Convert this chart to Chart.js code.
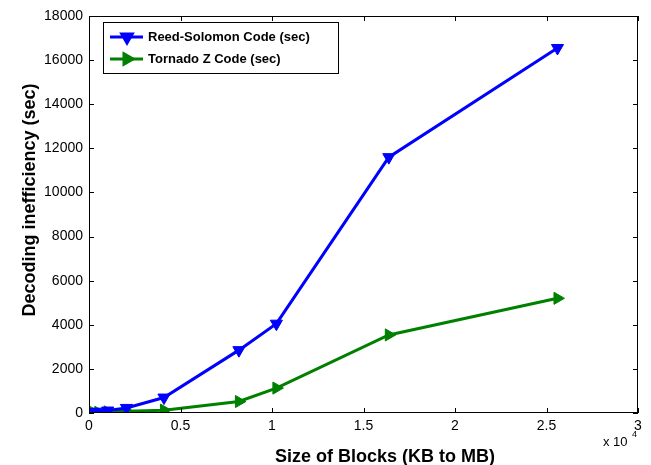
<!DOCTYPE html>
<html>
<head>
<meta charset="utf-8">
<script src="https://cdn.jsdelivr.net/npm/chart.js@4"></script>
<style>
    html, body { margin: 0; padding: 0; background: #fff; }
    #wrap { width: 651px; height: 465px; position: relative; }
</style>
</head>
<body>
<div id="wrap"><canvas id="decoding"></canvas></div>
<script>
// block sizes (x axis) and decoding time of each code
const blockSizes = [64, 256, 512, 1024, 2048, 4096, 8192, 10240, 16384, 25600];
const reedSolomon = [20, 40, 60, 110, 230, 700, 2850, 4050, 11600, 16550];
const tornadoZ = [10, 20, 30, 50, 80, 130, 520, 1130, 3540, 5200];

const seriesLabels = ['Reed-Solomon Code (sec)', 'Tornado Z Code (sec)'];
const xTitle = 'Size of Blocks (KB to MB)';
const yTitle = 'Decoding inefficiency (sec)';

const FONT = "'Liberation Sans', Arial, Helvetica, sans-serif";

function toPoints(values) {
    return blockSizes.map((x, i) => ({ x: x, y: values[i] }));
}

// matlab style box, inward ticks, legend and axis titles
const matlabFrame = {
    id: 'matlabFrame',
    afterDraw(chart) {
        const ctx = chart.ctx;
        const area = chart.chartArea;
        const xs = chart.scales.x;
        const ys = chart.scales.y;
        const tick = 5;

        ctx.save();
        ctx.strokeStyle = '#000';
        ctx.lineWidth = 1;
        ctx.strokeRect(area.left + 0.5, area.top + 0.5, area.right - area.left - 1, area.bottom - area.top - 1);

        ctx.beginPath();
        xs.ticks.forEach(t => {
            const px = Math.round(xs.getPixelForValue(t.value)) + 0.5;
            ctx.moveTo(px, area.bottom); ctx.lineTo(px, area.bottom - tick);
            ctx.moveTo(px, area.top); ctx.lineTo(px, area.top + tick);
        });
        ys.ticks.forEach(t => {
            const py = Math.round(ys.getPixelForValue(t.value)) + 0.5;
            ctx.moveTo(area.left, py); ctx.lineTo(area.left + tick, py);
            ctx.moveTo(area.right, py); ctx.lineTo(area.right - tick, py);
        });
        ctx.stroke();

        // exponent label
        ctx.fillStyle = '#000';
        ctx.textBaseline = 'alphabetic';
        ctx.textAlign = 'left';
        ctx.font = '13px ' + FONT;
        ctx.fillText('x 10', 603, 446);
        ctx.font = '9px ' + FONT;
        ctx.fillText('4', 632, 437);

        // axis titles
        ctx.font = 'bold 18px ' + FONT;
        ctx.textAlign = 'center';
        ctx.fillText(xTitle, 385, 462);
        ctx.save();
        ctx.translate(35, 200);
        ctx.rotate(-Math.PI / 2);
        ctx.fillText(yTitle, 0, 0);
        ctx.restore();

        // legend
        const lx = 103, ly = 22, lw = 235, lh = 51;
        ctx.fillStyle = '#fff';
        ctx.fillRect(lx, ly, lw, lh);
        ctx.strokeRect(lx + 0.5, ly + 0.5, lw, lh);
        chart.data.datasets.forEach((ds, i) => {
            const cy = ly + 15 + i * 22;
            ctx.strokeStyle = ds.borderColor;
            ctx.lineWidth = 3;
            ctx.beginPath();
            ctx.moveTo(110, cy);
            ctx.lineTo(143, cy);
            ctx.stroke();
            ctx.fillStyle = ds.borderColor;
            Chart.helpers.drawPoint(ctx, {
                pointStyle: 'triangle',
                rotation: ds.rotation,
                radius: 6,
                borderWidth: 1
            }, 127, cy);
            ctx.fillStyle = '#000';
            ctx.textAlign = 'left';
            ctx.textBaseline = 'middle';
            ctx.font = 'bold 13px ' + FONT;
            ctx.fillText(ds.label, 148, cy);
        });
        ctx.restore();
    }
};

const ctx = document.getElementById('decoding').getContext('2d');
new Chart(ctx, {
    type: 'line',
    data: {
        datasets: [{
            label: seriesLabels[0],
            data: toPoints(reedSolomon),
            borderColor: '#0000ff',
            backgroundColor: '#0000ff',
            borderWidth: 3,
            pointStyle: 'triangle',
            rotation: 180,
            pointRadius: 7,
            pointBorderWidth: 1,
            fill: false
        }, {
            label: seriesLabels[1],
            data: toPoints(tornadoZ),
            borderColor: '#008000',
            backgroundColor: '#008000',
            borderWidth: 3,
            pointStyle: 'triangle',
            rotation: 90,
            pointRadius: 7,
            pointBorderWidth: 1,
            fill: false
        }]
    },
    options: {
        responsive: true,
        maintainAspectRatio: false,
        animation: false,
        layout: { padding: { left: 0, right: 13, top: 16, bottom: 0 } },
        scales: {
            x: {
                type: 'linear',
                min: 0,
                max: 30000,
                grid: { display: false, drawTicks: false },
                border: { display: false },
                afterFit: scale => { scale.height = 52; },
                ticks: {
                    stepSize: 5000,
                    padding: 5,
                    color: '#000',
                    font: { family: FONT, size: 14 },
                    callback: v => String(v / 10000)
                }
            },
            y: {
                min: 0,
                max: 18000,
                grid: { display: false, drawTicks: false },
                border: { display: false },
                afterFit: scale => { scale.width = 89; },
                ticks: {
                    stepSize: 2000,
                    padding: 6,
                    color: '#000',
                    font: { family: FONT, size: 14 },
                    callback: v => String(v)
                }
            }
        },
        plugins: {
            legend: { display: false },
            tooltip: { enabled: false }
        }
    },
    plugins: [matlabFrame]
});
</script>
</body>
</html>
